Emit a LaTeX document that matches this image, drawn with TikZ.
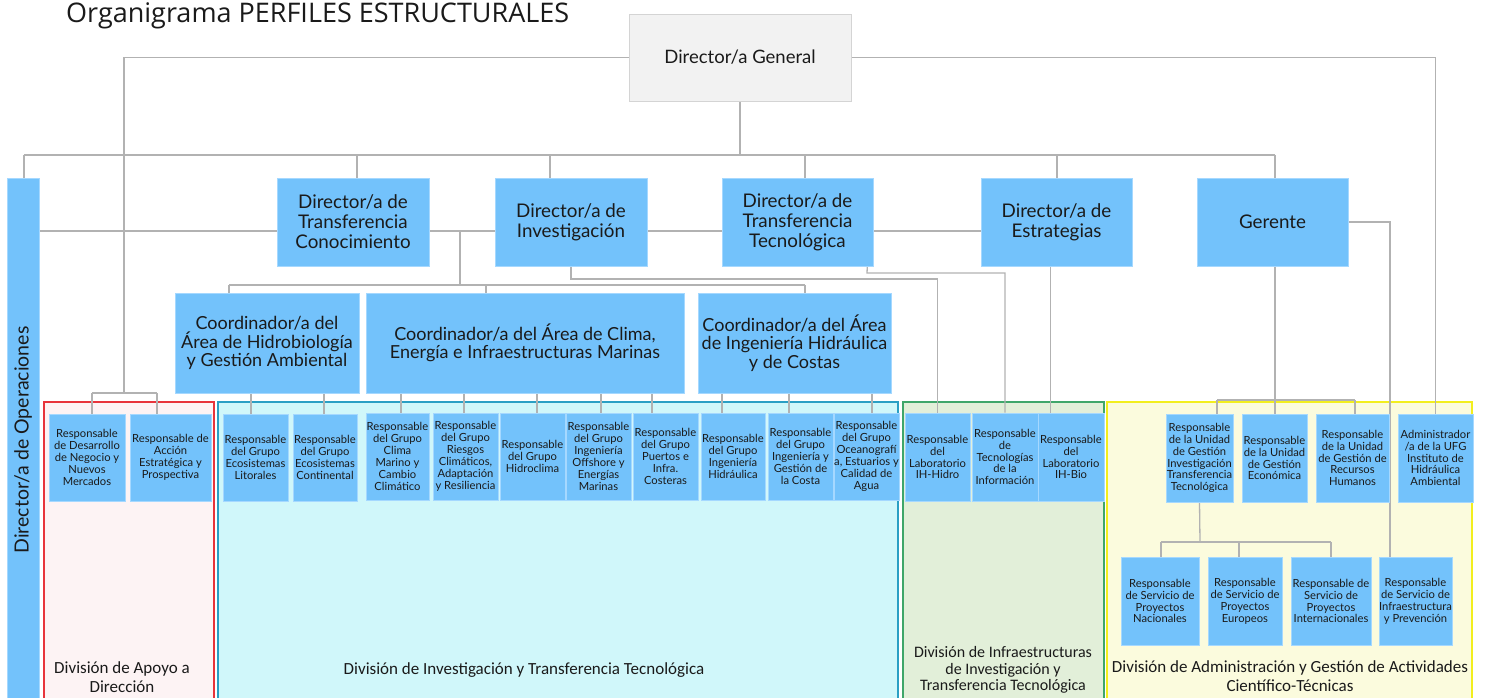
\documentclass[tikz,border=0pt]{standalone}
\usepackage{fontspec}
\setmainfont{Lato}
\newfontfamily\divfont{Carlito}
\newfontfamily\titlefont{Open Sans}
\usetikzlibrary{calc}
\pgfdeclarelayer{bg}
\pgfdeclarelayer{mid}
\pgfsetlayers{bg,mid,main}
\definecolor{boxblue}{HTML}{73C2FB}
\definecolor{boxedge}{HTML}{A5D8FF}
\definecolor{linegray}{HTML}{B2B2B2}
\definecolor{txt}{HTML}{1A1A1A}
\definecolor{dgfill}{HTML}{F2F2F2}
\definecolor{dgedge}{HTML}{D4D4D4}
\definecolor{apfill}{HTML}{FDF3F4}
\definecolor{apedge}{HTML}{E8343B}
\definecolor{itfill}{HTML}{D0F7FA}
\definecolor{itedge}{HTML}{2A9FC4}
\definecolor{infill}{HTML}{E2EFD9}
\definecolor{inedge}{HTML}{3FA66A}
\definecolor{adfill}{HTML}{FBFBDD}
\definecolor{adedge}{HTML}{F2EE1E}
\tikzset{
  box/.style={draw=boxedge, fill=boxblue, line width=0.6pt, inner sep=0pt, align=center, text=txt},
  small/.style={font=\fontsize{11.2}{11.9}\selectfont},
  mid/.style={font=\fontsize{18}{18.5}\selectfont},
  big/.style={font=\fontsize{18.8}{20}\selectfont},
  dgbox/.style={draw=dgedge, fill=dgfill, line width=0.8pt, inner sep=0pt, align=center, text=txt, font=\fontsize{18.5}{20}\selectfont},
  divbox/.style={line width=1.2pt, inner sep=0pt},
  divlabel/.style={align=center, text=txt, font=\divfont\fontsize{17}{18.5}\selectfont},
  conn/.style={draw=linegray, line width=1.3pt},
}
\newcommand\bx[7][]{%
  \pgfmathsetmacro\bxw{#5-#3}%
  \pgfmathsetmacro\bxh{#6-#4}%
  \pgfmathsetmacro\bxx{(#3+#5)/2}%
  \pgfmathsetmacro\bxy{(#4+#6)/2}%
  \node[#1, minimum width=\bxw pt, minimum height=\bxh pt] (#2) at (\bxx,\bxy) {#7};}
\newcommand\drop[3]{\draw[conn] (#1,0 |- #2.south) -- (#1,0 |- #3.north);}
\begin{document}
\begin{tikzpicture}[x=1pt,y=-1pt]
\useasboundingbox (0,0) rectangle (1486,698);
% divisions
\begin{pgfonlayer}{bg}
\bx[divbox,draw=apedge,fill=apfill]{dap}{44}{402}{214}{710}{}
\bx[divbox,draw=itedge,fill=itfill]{dit}{218}{402}{898}{710}{}
\bx[divbox,draw=inedge,fill=infill]{din}{903}{402}{1104}{710}{}
\bx[divbox,draw=adedge,fill=adfill]{dad}{1107}{402}{1472}{710}{}
\end{pgfonlayer}
% title
\node[anchor=base west, inner sep=0pt, text=txt, font=\titlefont\fontsize{27}{30}\selectfont] (title) at (66,23) {Organigrama PERFILES ESTRUCTURALES};
% top
\bx[dgbox]{dg}{629}{14}{851}{101}{Director/a General}
\bx[box,big]{ops}{7}{178}{39}{705}{}
\node[rotate=90, text=txt, font=\fontsize{19.5}{20}\selectfont, inner sep=0pt] (opst) at (23,440) {Director/a de Operaciones};
\bx[box,big]{dtc}{277}{178}{429}{266}{Director/a de\\Transferencia\\Conocimiento}
\bx[box,big]{inv}{495}{178}{647}{266}{Director/a de\\Investigación}
\bx[box,big]{dtt}{722}{178}{873}{266}{Director/a de\\Transferencia\\Tecnológica}
\bx[box,big]{est}{981}{178}{1132}{266}{Director/a de\\Estrategias}
\bx[box,big]{ger}{1197}{178}{1348}{266}{Gerente}
% coordinators
\bx[box,mid]{co1}{175}{293}{359}{393}{Coordinador/a del\\Área de Hidrobiología\\y Gestión Ambiental}
\bx[box,mid]{co2}{366}{293}{684}{393}{Coordinador/a del Área de Clima,\\Energía e Infraestructuras Marinas}
\bx[box,mid]{co3}{698}{293}{891}{393}{Coordinador/a del Área\\de Ingeniería Hidráulica\\y de Costas}
% level 3
\bx[box,small]{ap1}{49}{414}{125}{501}{Responsable\\de Desarrollo\\de Negocio y\\Nuevos\\Mercados}
\bx[box,small]{ap2}{130}{414}{211}{501}{Responsable de\\Acción\\Estratégica y\\Prospectiva}
\bx[box,small]{lit}{223}{414}{288}{501}{Responsable\\del Grupo\\Ecosistemas\\Litorales}
\bx[box,small]{con}{293}{414}{357}{501}{Responsable\\del Grupo\\Ecosistemas\\Continental}
\bx[box,small]{cmc}{366}{413}{429}{500}{Responsable\\del Grupo\\Clima\\Marino y\\Cambio\\Climático}
\bx[box,small]{rie}{433}{413}{498}{500}{Responsable\\del Grupo\\Riesgos\\Climáticos,\\Adaptación\\y Resiliencia}
\bx[box,small]{hid}{500}{413}{565}{500}{Responsable\\del Grupo\\Hidroclima}
\bx[box,small]{off}{566}{413}{631}{500}{Responsable\\del Grupo\\Ingeniería\\Offshore y\\Energías\\Marinas}
\bx[box,small]{pue}{633}{413}{698}{500}{Responsable\\del Grupo\\Puertos e\\Infra.\\Costeras}
\bx[box,small]{ing}{701}{413}{765}{500}{Responsable\\del Grupo\\Ingeniería\\Hidráulica}
\bx[box,small]{cos}{768}{413}{833}{500}{Responsable\\del Grupo\\Ingeniería y\\Gestión de\\la Costa}
\bx[box,small]{oce}{834}{413}{899}{500}{Responsable\\del Grupo\\Oceanografí\\a, Estuarios y\\Calidad de\\Agua}
\bx[box,small]{ihh}{905}{413}{970}{501}{Responsable\\del\\Laboratorio\\IH-Hidro}
\bx[box,small]{tic}{972}{413}{1038}{501}{Responsable\\de\\Tecnologías\\de la\\Información}
\bx[box,small]{ihb}{1038}{413}{1104}{501}{Responsable\\del\\Laboratorio\\IH-Bio}
\bx[box,small]{ugi}{1166}{414}{1233}{502}{Responsable\\de la Unidad\\de Gestión\\Investigación\\Transferencia\\Tecnológica}
\bx[box,small]{eco}{1242}{414}{1307}{502}{Responsable\\de la Unidad\\de Gestión\\Económica}
\bx[box,small]{rrh}{1316}{414}{1389}{502}{Responsable\\de la Unidad\\de Gestión de\\Recursos\\Humanos}
\bx[box,small]{adm}{1398}{414}{1473}{502}{Administrador\\/a de la UFG\\Instituto de\\Hidráulica\\Ambiental}
\bx[box,small]{nac}{1121}{557}{1199}{645}{Responsable\\de Servicio de\\Proyectos\\Nacionales}
\bx[box,small]{eur}{1208}{557}{1282}{645}{Responsable\\de Servicio de\\Proyectos\\Europeos}
\bx[box,small]{int}{1291}{557}{1371}{645}{Responsable de\\Servicio de\\Proyectos\\Internacionales}
\bx[box,small]{ipv}{1379}{557}{1452}{645}{Responsable\\de Servicio de\\Infraestructura\\y Prevención}
% division labels
\node[divlabel] (lap) at (122,677) {División de Apoyo a\\Dirección};
\node[divlabel] (lit2) at (524,670) {División de Investigación y Transferencia Tecnológica};
\node[divlabel, font=\divfont\fontsize{16}{16.5}\selectfont] (lin) at (1003,670) {División de Infraestructuras\\de Investigación y\\Transferencia Tecnológica};
\node[divlabel] (lad) at (1290,676) {División de Administración y Gestión de Actividades\\Científico-Técnicas};
% connectors
\begin{pgfonlayer}{mid}
\coordinate (b0) at (740,155);
\coordinate (bL) at (24,155);
\coordinate (bR) at (1275,155);
\draw[conn] (dg.south) -- (b0);
\draw[conn] (bL) -- (bR);
\draw[conn] (bL) -- (bL |- ops.north);
\draw[conn] (357,0 |- bL) -- (357,0 |- dtc.north);
\draw[conn] (550,0 |- bL) -- (550,0 |- inv.north);
\draw[conn] (805,0 |- bL) -- (805,0 |- dtt.north);
\draw[conn] (1057,0 |- bL) -- (1057,0 |- est.north);
\draw[conn] (bR) -- (bR |- ger.north);
% DG left to Apoyo
\coordinate (apb) at (124,393);
\coordinate (apL) at (92,393);
\coordinate (apR) at (157,393);
\draw[conn] (dg.west) -| (apb);
\draw[conn] (apL) -- (apR);
\draw[conn] (apL) -- (apL |- ap1.north);
\draw[conn] (apR) -- (apR |- ap2.north);
% DG right to Administrador
\draw[conn] (dg.east) -| (adm.north);
% horizontal line through directors
\coordinate (h1) at (39,231);
\draw[conn] (ops.east |- h1) -- (h1 -| est.west);
% coordinators
\coordinate (c0) at (460,231);
\coordinate (c1) at (460,285);
\coordinate (cL) at (229,285);
\coordinate (cM) at (486,285);
\coordinate (cR) at (805,285);
\draw[conn] (c0) -- (c1);
\draw[conn] (cL) -- (cR);
\draw[conn] (cL) -- (cL |- co1.north);
\draw[conn] (cM) -- (cM |- co2.north);
\draw[conn] (cR) -- (cR |- co3.north);
% coordinators to groups
\drop{251}{co1}{lit}
\drop{324}{co1}{con}
\drop{401}{co2}{cmc}
\drop{464}{co2}{rie}
\drop{537}{co2}{hid}
\drop{601}{co2}{off}
\drop{652}{co2}{pue}
\drop{722}{co3}{ing}
\drop{789}{co3}{cos}
\drop{872}{co3}{oce}
% Investigacion -> IH-Hidro
\coordinate (iv1) at (571,279);
\draw[conn] (inv.south) -- (iv1) -| (ihh.north);
% DTT -> TIC
\coordinate (tt0) at ($(dtt.south east)+(-6,0)$);
\coordinate (tt1) at (867,273);
\draw[conn] (tt0) -- (tt1) -| (tic.north);
% Estrategias -> IH-Bio
\coordinate (es0) at ($(est.south)+(-6,0)$);
\draw[conn] (es0) -- (es0 |- ihb.north);
% Gerente -> admin units
\coordinate (gbL) at (1217,400);
\coordinate (gbR) at (1355,400);
\draw[conn] (bR |- ger.south) -- (bR |- gbL);
\draw[conn] (gbL) -- (gbR);
\draw[conn] (gbL) -- (gbL |- ugi.north);
\draw[conn] (bR |- gbL) -- (bR |- eco.north);
\draw[conn] (gbR) -- (gbR |- rrh.north);
% Gerente right -> Infraestructura y Prevencion
\coordinate (grx) at (1390,557);
\draw[conn] (ger.east) -| (grx);
% UGI -> servicios
\coordinate (u0) at (1200,542);
\coordinate (uL) at (1161,542);
\coordinate (uM) at (1239,542);
\coordinate (uR) at (1331,542);
\draw[conn] (ugi.south) -- (u0);
\draw[conn] (uL) -- (uR);
\draw[conn] (uL) -- (uL |- nac.north);
\draw[conn] (uM) -- (uM |- eur.north);
\draw[conn] (uR) -- (uR |- int.north);
\end{pgfonlayer}
\end{tikzpicture}
\end{document}
